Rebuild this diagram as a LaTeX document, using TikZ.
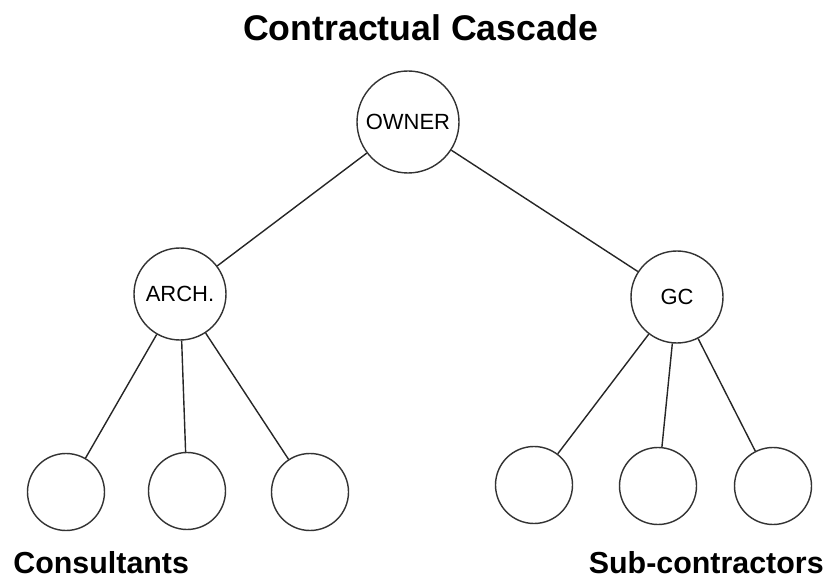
\documentclass[tikz,border=0pt]{standalone}
\usepackage{fontspec}
\setmainfont{Liberation Sans}
\usetikzlibrary{positioning}

\tikzset{
    party/.style={draw=black!80, line width=0.8pt, circle, inner sep=0pt, font=\fontsize{12.5}{14}\selectfont},
    bigparty/.style={party, minimum size=2.04cm},
    midparty/.style={party, minimum size=1.84cm},
    smallparty/.style={party, minimum size=1.54cm},
    link/.style={draw=black!85, line width=0.8pt},
    heading/.style={inner sep=0pt, font=\bfseries\fontsize{20.3}{24}\selectfont},
    tier/.style={inner sep=0pt, font=\bfseries\fontsize{17.3}{20}\selectfont}
}

\begin{document}
\begin{tikzpicture}
        \useasboundingbox (0, 0) rectangle (16.6, 11.6);

        \node[heading, anchor=base] (title) at (8.41, 10.78) {Contractual Cascade};

        \node[bigparty] (owner) at (8.16, 9.16) {OWNER};
        \node[midparty] (arch) at (3.6, 5.72) {ARCH.};
        \node[midparty] (gc) at (13.54, 5.66) {GC};

        \node[smallparty] (cons1) at (1.32, 1.76) {};
        \node[smallparty] (cons2) at (3.74, 1.78) {};
        \node[smallparty] (cons3) at (6.2, 1.76) {};

        \node[smallparty] (sub1) at (10.68, 1.9) {};
        \node[smallparty] (sub2) at (13.16, 1.88) {};
        \node[smallparty] (sub3) at (15.46, 1.88) {};

        \draw[link] (owner) -- (arch);
        \draw[link] (owner) -- (gc);

        \draw[link] (arch) -- (cons1);
        \draw[link] (arch) -- (cons2);
        \draw[link] (arch) -- (cons3);

        \draw[link] (gc) -- (sub1);
        \draw[link] (gc) -- (sub2);
        \draw[link] (gc) -- (sub3);

        \node[tier, anchor=base west] (consultants) at (0.26, 0.14) {Consultants};
        \node[tier, anchor=base east] (subs) at (16.48, 0.14) {Sub-contractors};
    \end{tikzpicture}
\end{document}
